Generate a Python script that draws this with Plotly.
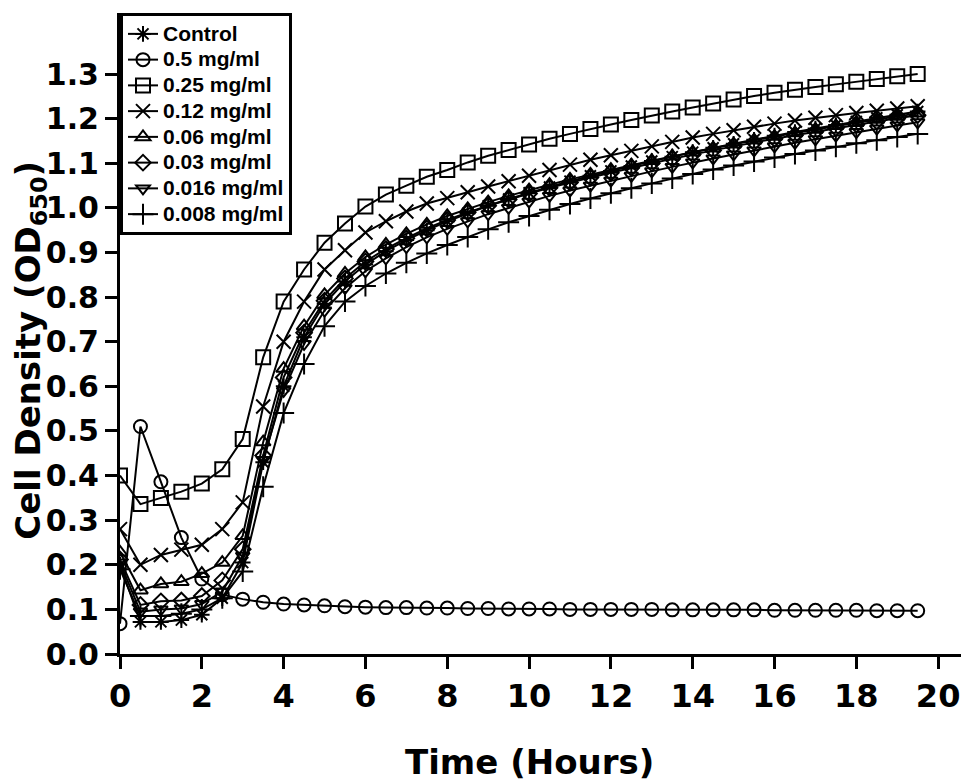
import plotly.graph_objects as go

hours = [0, 0.5, 1, 1.5, 2, 2.5, 3, 3.5, 4, 4.5, 5, 5.5, 6, 6.5, 7, 7.5, 8, 8.5, 9, 9.5,
         10, 10.5, 11, 11.5, 12, 12.5, 13, 13.5, 14, 14.5, 15, 15.5, 16, 16.5, 17, 17.5, 18, 18.5, 19, 19.5]

control = [0.20, 0.072, 0.072, 0.076, 0.088, 0.125, 0.205, 0.43, 0.60, 0.71, 0.785, 0.835, 0.873, 0.903,
           0.928, 0.95, 0.97, 0.988, 1.005, 1.02, 1.034, 1.047, 1.06, 1.072, 1.083, 1.094, 1.105, 1.115,
           1.125, 1.135, 1.144, 1.153, 1.162, 1.17, 1.178, 1.186, 1.194, 1.202, 1.209, 1.216]
c_050 = [0.068, 0.51, 0.386, 0.261, 0.168, 0.133, 0.123, 0.116, 0.112, 0.11, 0.108, 0.106, 0.105, 0.104,
         0.104, 0.103, 0.103, 0.102, 0.102, 0.101, 0.101, 0.101, 0.1, 0.1, 0.1, 0.1, 0.1, 0.099, 0.099,
         0.099, 0.099, 0.099, 0.098, 0.098, 0.098, 0.098, 0.098, 0.097, 0.097, 0.097]
c_025 = [0.40, 0.336, 0.35, 0.364, 0.382, 0.414, 0.482, 0.665, 0.79, 0.862, 0.922, 0.965, 1.003, 1.03, 1.05,
         1.07, 1.085, 1.102, 1.117, 1.13, 1.142, 1.155, 1.166, 1.177, 1.187, 1.197, 1.207, 1.216, 1.225,
         1.234, 1.243, 1.251, 1.258, 1.265, 1.271, 1.277, 1.283, 1.289, 1.295, 1.30]
c_012 = [0.28, 0.20, 0.222, 0.234, 0.245, 0.28, 0.34, 0.555, 0.70, 0.79, 0.862, 0.905, 0.945, 0.97, 0.992,
         1.01, 1.022, 1.035, 1.048, 1.06, 1.072, 1.085, 1.097, 1.108, 1.118, 1.128, 1.138, 1.148, 1.158,
         1.166, 1.174, 1.182, 1.189, 1.196, 1.202, 1.208, 1.213, 1.218, 1.223, 1.228]
c_006 = [0.228, 0.143, 0.157, 0.162, 0.18, 0.205, 0.265, 0.475, 0.64, 0.735, 0.805, 0.853, 0.89, 0.918,
         0.942, 0.963, 0.982, 0.998, 1.013, 1.027, 1.04, 1.052, 1.064, 1.075, 1.086, 1.096, 1.106, 1.116,
         1.125, 1.134, 1.143, 1.152, 1.16, 1.168, 1.176, 1.184, 1.191, 1.198, 1.205, 1.212]
c_003 = [0.212, 0.11, 0.118, 0.12, 0.13, 0.165, 0.235, 0.445, 0.62, 0.72, 0.792, 0.842, 0.88, 0.908, 0.932,
         0.954, 0.973, 0.99, 1.005, 1.019, 1.032, 1.045, 1.057, 1.068, 1.079, 1.09, 1.1, 1.11, 1.12, 1.129,
         1.138, 1.147, 1.155, 1.163, 1.171, 1.179, 1.187, 1.194, 1.201, 1.208]
c_0016 = [0.205, 0.095, 0.1, 0.102, 0.112, 0.14, 0.22, 0.435, 0.59, 0.695, 0.77, 0.82, 0.858, 0.887, 0.912,
          0.934, 0.953, 0.97, 0.986, 1.0, 1.014, 1.027, 1.039, 1.05, 1.061, 1.072, 1.082, 1.092, 1.102,
          1.111, 1.12, 1.129, 1.138, 1.146, 1.154, 1.162, 1.17, 1.178, 1.185, 1.192]
c_0008 = [0.19, 0.085, 0.085, 0.09, 0.1, 0.125, 0.185, 0.375, 0.54, 0.65, 0.735, 0.79, 0.825, 0.853, 0.877,
          0.898, 0.917, 0.935, 0.952, 0.968, 0.982, 0.996, 1.009, 1.021, 1.033, 1.044, 1.055, 1.066, 1.076,
          1.086, 1.095, 1.104, 1.113, 1.121, 1.129, 1.137, 1.145, 1.152, 1.159, 1.166]

series_names = ["Control", "0.5 mg/ml", "0.25 mg/ml", "0.12 mg/ml", "0.06 mg/ml",
                "0.03 mg/ml", "0.016 mg/ml", "0.008 mg/ml"]
series_values = [control, c_050, c_025, c_012, c_006, c_003, c_0016, c_0008]
symbols = ["asterisk-open", "circle-open", "square-open", "x-thin-open", "triangle-up-open",
           "diamond-open", "triangle-down-open", "cross-thin-open"]
sizes = [13, 13, 14, 14, 13, 12, 12, 15]

y_ticks = [0.0, 0.1, 0.2, 0.3, 0.4, 0.5, 0.6, 0.7, 0.8, 0.9, 1.0, 1.1, 1.2, 1.3]
x_ticks = [0, 2, 4, 6, 8, 10, 12, 14, 16, 18, 20]

fig = go.Figure()
for name, vals, sym, sz in zip(series_names, series_values, symbols, sizes):
    fig.add_trace(go.Scatter(
        x=hours, y=vals, mode="lines+markers",
        name='<span style="font-size:21px">' + name + "</span>",
        line=dict(color="black", width=2),
        marker=dict(symbol=sym, size=sz, color="black", line=dict(color="black", width=2)),
    ))

x_tick_font = dict(family="DejaVu Sans", size=32, color="black", weight="bold")
y_tick_font = dict(family="DejaVu Sans", size=30, color="black", weight="bold")
title_font = dict(family="DejaVu Sans", size=34, color="black", weight="bold")

fig.update_layout(
    width=969, height=783,
    margin=dict(l=112, r=0, t=5, b=137),
    paper_bgcolor="white", plot_bgcolor="white",
    showlegend=True,
    legend=dict(
        x=0, y=1, xanchor="left", yanchor="top",
        bgcolor="white", bordercolor="black", borderwidth=3,
        font=dict(family="Liberation Sans", size=17.5, color="black", weight="bold"),
        tracegroupgap=0, itemsizing="trace",
    ),
    xaxis=dict(
        range=[0, 20.95], tickvals=x_ticks, ticktext=[str(v) for v in x_ticks],
        showgrid=False, zeroline=False, showline=True, linecolor="black", linewidth=3,
        ticks="outside", ticklen=12, tickwidth=3, tickcolor="black",
        tickfont=x_tick_font,
    ),
    yaxis=dict(
        range=[0, 1.437], tickvals=y_ticks, ticktext=[f"{v:.1f}" for v in y_ticks],
        showgrid=False, zeroline=False, showline=True, linecolor="black", linewidth=3,
        ticks="outside", ticklen=12, tickwidth=3, tickcolor="black",
        tickfont=y_tick_font,
    ),
    annotations=[
        dict(text="Time (Hours)", x=10, y=0, xref="x", yref="paper",
             yshift=-108, yanchor="middle", showarrow=False, font=title_font),
        dict(text="Cell Density (OD<sub>650</sub>)", x=0, y=0.68, xref="paper", yref="y",
             xshift=-89, xanchor="center", yanchor="middle", textangle=-90,
             showarrow=False, font=title_font),
    ],
)

fig.write_html("out.html")
